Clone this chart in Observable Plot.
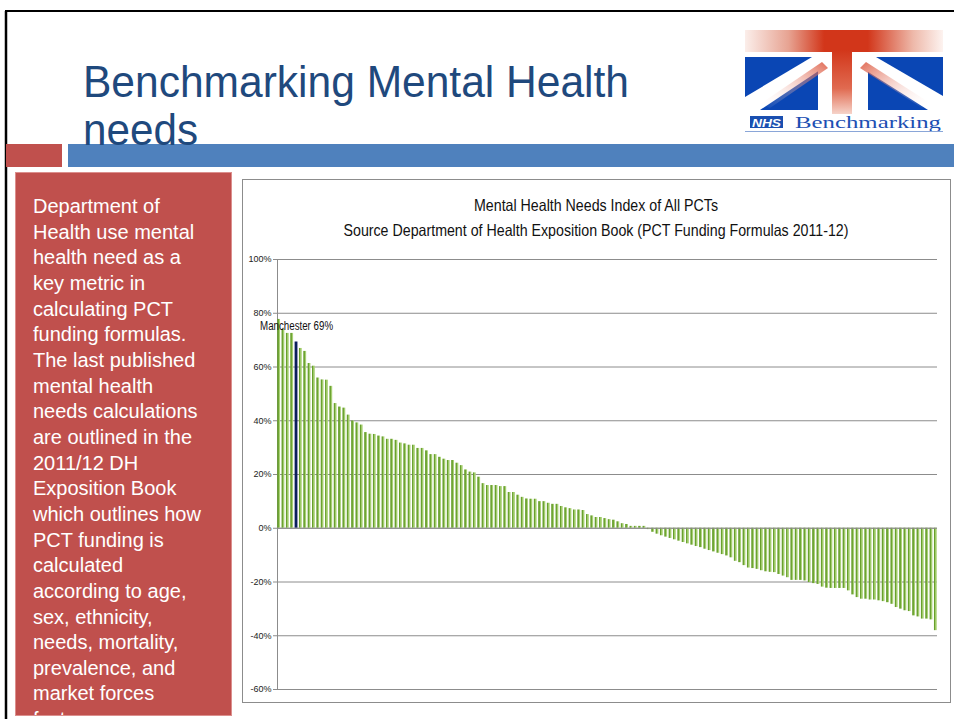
<!DOCTYPE html>
<html>
<head>
<meta charset="utf-8">
<script src="https://cdn.jsdelivr.net/npm/d3@7"></script>
<script src="https://cdn.jsdelivr.net/npm/@observablehq/plot@0.6"></script>
<style>
  body { margin: 0; background: #fff; }
  #slide { position: relative; width: 954px; height: 719px; overflow: hidden; background: #fff; font-family: "Liberation Sans", Arial, sans-serif; }
  #deco { position: absolute; left: 0; top: 0; }
  #note { position: absolute; left: 15px; top: 172px; width: 217px; height: 544px; box-sizing: border-box;
          background: #c0504d; border: 1px solid #dc8f8d; overflow: hidden; color: #fff;
          font-family: "Liberation Sans", Arial, sans-serif; font-size: 20px; line-height: 25.65px;
          padding: 21px 0 0 17px; white-space: pre; }
  #chart { position: absolute; left: 242px; top: 240px; }
</style>
</head>
<body>
<div id="slide">
  <svg id="deco" width="954" height="719" xmlns="http://www.w3.org/2000/svg">
    <defs>
      <linearGradient id="greenGrad" x1="0" y1="0" x2="1" y2="0">
        <stop offset="0" stop-color="#639a27"/>
        <stop offset="0.5" stop-color="#70a735"/>
        <stop offset="0.5" stop-color="#9bc864"/>
        <stop offset="1" stop-color="#b3d684"/>
      </linearGradient>
      <linearGradient id="redBand" x1="0" y1="0" x2="1" y2="0">
        <stop offset="0" stop-color="#fbeeea"/>
        <stop offset="0.22" stop-color="#e7a392"/>
        <stop offset="0.4" stop-color="#d2361a"/>
        <stop offset="0.62" stop-color="#d2361a"/>
        <stop offset="0.85" stop-color="#eeb9aa"/>
        <stop offset="1" stop-color="#fdf3f0"/>
      </linearGradient>
      <linearGradient id="stem" x1="0" y1="0" x2="0" y2="1">
        <stop offset="0" stop-color="#d2361a"/>
        <stop offset="0.6" stop-color="#e06a50"/>
        <stop offset="1" stop-color="#f6d3c9"/>
      </linearGradient>
      <linearGradient id="diagL" x1="1" y1="0" x2="0" y2="1">
        <stop offset="0" stop-color="#d9462a"/>
        <stop offset="1" stop-color="#ffffff" stop-opacity="0"/>
      </linearGradient>
      <linearGradient id="diagR" x1="0" y1="0" x2="1" y2="1">
        <stop offset="0" stop-color="#d9462a"/>
        <stop offset="1" stop-color="#ffffff" stop-opacity="0"/>
      </linearGradient>
    </defs>

    <!-- slide frame -->
    <line x1="5" y1="11" x2="954" y2="11" stroke="#000" stroke-width="2"/>
    <line x1="6" y1="11" x2="6" y2="719" stroke="#000" stroke-width="2.5"/>

    <!-- header band -->
    <rect x="6" y="144" width="56" height="23" fill="#c0504d"/>
    <rect x="68" y="144" width="886" height="23" fill="#4f81bd"/>

    <!-- slide title -->
    <text x="83" y="97" font-family="Liberation Sans, Arial, sans-serif" font-size="45" fill="#1f497d"
          textLength="546" lengthAdjust="spacingAndGlyphs">Benchmarking Mental Health</text>
    <text x="83" y="145" font-family="Liberation Sans, Arial, sans-serif" font-size="45" fill="#1f497d"
          textLength="115" lengthAdjust="spacingAndGlyphs">needs</text>

    <!-- logo -->
    <rect x="745" y="30" width="198" height="22" fill="url(#redBand)"/>
    <rect x="745" y="57" width="198" height="53" fill="#0a46b4"/>
    <polygon points="745,97 745,110 760,110 826,66 826,57 812,57" fill="#fff"/>
    <polygon points="862,57 876,57 943,96 943,110 928,110 862,68" fill="#fff"/>
    <rect x="818" y="52" width="50" height="58" fill="#fff"/>
    <polygon points="760,104 822,62 828,68 770,108" fill="url(#diagL)" opacity="0.8"/>
    <polygon points="866,62 930,103 922,108 860,68" fill="url(#diagR)" opacity="0.8"/>
    <rect x="832" y="50" width="20" height="64" fill="url(#stem)"/>
    <rect x="750" y="116" width="33" height="12" fill="#1a4fb0"/>
    <text x="752" y="126.5" font-family="Liberation Sans, Arial, sans-serif" font-size="10.5" font-weight="bold"
          font-style="italic" fill="#fff" textLength="29" lengthAdjust="spacingAndGlyphs">NHS</text>
    <text x="795" y="128" font-family="Liberation Serif, DejaVu Serif, serif" font-size="17" fill="#1c4fb3"
          textLength="146" lengthAdjust="spacingAndGlyphs">Benchmarking</text>
    <line x1="745" y1="131.5" x2="943" y2="131.5" stroke="#8aa6d8" stroke-width="1"/>

    <!-- chart box -->
    <rect x="242.5" y="179.5" width="708" height="523" fill="#fff" stroke="#8c8c8c" stroke-width="1"/>
    <text x="596" y="211" text-anchor="middle" font-family="Liberation Sans, Arial, sans-serif" font-size="16.5"
          fill="#111" textLength="244" lengthAdjust="spacingAndGlyphs">Mental Health Needs Index of All PCTs</text>
    <text x="596" y="236" text-anchor="middle" font-family="Liberation Sans, Arial, sans-serif" font-size="16.5"
          fill="#111" textLength="505" lengthAdjust="spacingAndGlyphs">Source Department of Health Exposition Book (PCT Funding Formulas 2011-12)</text>
    <line x1="277.5" y1="259" x2="277.5" y2="689" stroke="#8c8c8c" stroke-width="1"/>
  </svg>

  <div id="note">Department of
Health use mental
health need as a
key metric in
calculating PCT
funding formulas.
The last published
mental health
needs calculations
are outlined in the
2011/12 DH
Exposition Book
which outlines how
PCT funding is
calculated
according to age,
sex, ethnicity,
needs, mortality,
prevalence, and
market forces
factors</div>

  <div id="chart"></div>
</div>

<script>
// Mental Health Needs Index (%) for all PCTs, sorted descending
const needsIndex = [
  77.7, 74.0, 72.5, 72.5, 69.3, 66.9, 65.8, 61.3, 60.3, 55.9,
  55.2, 55.1, 52.8, 46.4, 45.1, 44.7, 42.1, 39.9, 39.2, 38.4,
  35.6, 35.0, 34.9, 34.3, 34.0, 33.1, 33.1, 32.7, 31.7, 31.4,
  30.9, 30.9, 29.7, 29.7, 28.8, 27.4, 27.4, 26.4,
  25.7, 25.2, 25.2, 24.2, 23.3, 21.7, 20.9, 20.6, 19.0, 16.6,
  15.9, 15.9, 15.9, 15.5, 15.5, 13.3, 13.3, 12.3, 11.5, 10.9,
  10.8, 10.8, 9.9, 9.9, 9.3, 8.9, 8.9, 8.1, 7.6, 7.3,
  6.8, 6.8, 6.6, 5.1, 4.6, 4.0, 4.0, 3.6,
  3.2, 3.0, 2.4, 1.7, 1.4, 0.7, 0.7, 0.7, 0.7,
  -0.5, -1.5, -2.2, -2.8, -3.3, -3.8, -4.3, -4.8, -5.3, -5.8,
  -6.3, -6.8, -7.2, -7.8, -8.3, -8.8, -9.3, -9.8, -10.3, -11.0,
  -12.3, -12.8, -13.9, -14.8, -15.0, -15.3, -15.8, -16.2, -16.4,
  -16.5, -17.2, -17.8, -18.4, -19.4, -19.4, -19.4, -19.6, -20.2, -20.6,
  -20.9, -21.9, -22.3, -22.4, -22.4, -22.4, -22.4, -23.3, -24.8, -25.8,
  -26.4, -26.4, -26.7, -26.7, -27.0, -27.3, -27.7, -28.3, -29.5, -30.1,
  -30.7, -31.0, -32.6, -33.0, -33.8, -33.8, -34.1, -38.1
];
const highlightRank = 4;            // Manchester PCT
const highlightLabel = "Manchester 69%";
const yTicks = [-60, -40, -20, 0, 20, 40, 60, 80, 100];
const groups = ["other", "manchester"];
const groupColors = ["url(#greenGrad)", "#0c1f5c"];

const data = needsIndex.map((v, i) => ({rank: i, value: v, group: i === highlightRank ? "manchester" : "other"}));
const labelData = [{rank: highlightRank, value: needsIndex[highlightRank], text: highlightLabel}];

const chart = Plot.plot({
  width: 709,
  height: 460,
  marginLeft: 35,
  marginRight: 14,
  marginTop: 19,
  marginBottom: 11,
  style: {background: "transparent", fontFamily: "Liberation Sans, Arial, sans-serif", fontSize: "9px", color: "#222", overflow: "visible"},
  x: {type: "band", domain: d3.range(needsIndex.length), paddingInner: 0.35, paddingOuter: 0.05, axis: null},
  y: {domain: [-60, 100], axis: null, label: null},
  color: {domain: groups, range: groupColors},
  marks: [
    Plot.gridY(yTicks, {stroke: "#8c8c8c", strokeOpacity: 1}),
    Plot.axisY(yTicks, {tickFormat: d => d + "%", tickSize: 4, tickPadding: 2, stroke: "#8c8c8c", fill: "#222", fontSize: 9, label: null}),
    Plot.barY(data, {x: "rank", y: "value", fill: "group"}),
    Plot.ruleY([0], {stroke: "#8c8c8c"}),
    Plot.text(labelData, {x: "rank", y: "value", text: "text", dy: -16, fontSize: 12, fill: "#111", textAnchor: "middle"})
  ]
});
document.getElementById("chart").appendChild(chart);
d3.select(chart).selectAll('g[aria-label="text"] text')
  .attr("textLength", 73).attr("lengthAdjust", "spacingAndGlyphs");
</script>
</body>
</html>
